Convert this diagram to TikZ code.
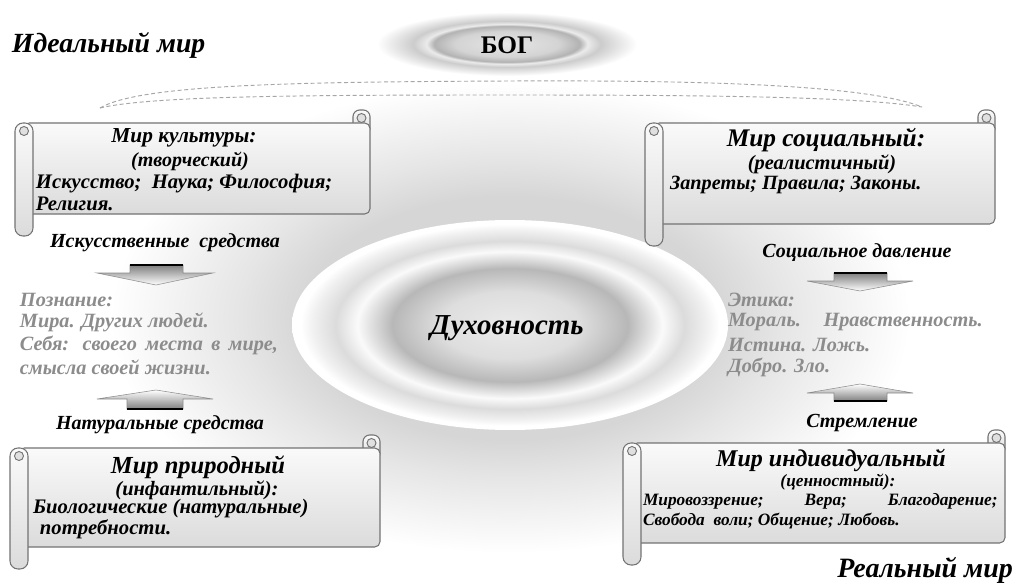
\documentclass[tikz,border=0pt]{standalone}
\usepackage{fontspec}
\setmainfont{Liberation Serif}
\usetikzlibrary{shadings}
\pgfdeclareradialshading{bgglow}{\pgfpoint{0bp}{0bp}}{color(0bp)=(black!17); color(13bp)=(black!16); color(17bp)=(black!10); color(25bp)=(white); color(50bp)=(white)}
\pgfdeclareradialshading{spirit}{\pgfpoint{0bp}{0bp}}{color(0bp)=(black!8); color(8bp)=(black!13); color(13.5bp)=(black!28); color(15bp)=(black!18); color(17.5bp)=(black!2); color(20bp)=(black!14); color(22.5bp)=(black!6); color(24bp)=(white); color(25bp)=(white); color(50bp)=(white)}
\pgfdeclareradialshading{godglow}{\pgfpoint{0bp}{0bp}}{color(0bp)=(black!10); color(10bp)=(black!17); color(14bp)=(black!30); color(15.5bp)=(black!8); color(18bp)=(black!20); color(25bp)=(white); color(50bp)=(white)}
\newcommand{\myscroll}[4]{%
  \draw[scr, rounded corners=5pt] (#3-17,#2+12) rectangle (#3,#2-13);
  \draw[curl] (#3-8.5,#2-5) circle (4.5);
  \draw[scr, rounded corners=4pt] (#1+9,#2) rectangle (#3,#4);
  \draw[scr, rounded corners=6pt] (#1,#2) rectangle (#1+18,#4+22);
  \draw[curl] (#1+9,#2+8) circle (4.5);
}
\newcommand{\bi}[1]{\bfseries\itshape\fontsize{#1}{#1}\selectfont}
\begin{document}
\begin{tikzpicture}[x=0.75pt,y=-0.75pt,
  every node/.style={inner sep=0pt, outer sep=0pt},
  bdy/.style={anchor=west},
  lbl/.style={font=\bi{15}},
  gry/.style={font=\bi{15.2}, anchor=west, text=black!45},
  scr/.style={draw=black!55, line width=0.8pt, top color=black!2, bottom color=black!14},
  curl/.style={draw=black!55, line width=0.7pt, fill=black!12},
  arrd/.style={draw=black!45, line width=0.4pt, top color=black!50, bottom color=white},
  arru/.style={draw=black!45, line width=0.4pt, top color=white, bottom color=black!50},
  bar/.style={line width=1.6pt, black},
  band/.style={draw=black!35, line width=0.7pt, dash pattern=on 3pt off 2pt}]
\useasboundingbox (0,0) rectangle (1015,585);
\fill[white] (0,0) rectangle (1015,585);
% background glow
\shade[shading=bgglow] (510,318) ellipse (400 and 235);
% god glow
\shade[shading=godglow] (507,44) ellipse (130 and 32);
\node[font=\bfseries\fontsize{19}{19}\selectfont] (god) at (507,45) {БОГ};
% dashed band
\draw[band] (100,108) .. controls (140,84) and (300,82) .. (510,81) .. controls (720,80) and (870,86) .. (922,107);
\draw[band] (100,108) .. controls (150,96) and (300,95) .. (510,95) .. controls (720,95) and (860,97) .. (922,107);
% worlds labels
\node[anchor=west, font=\bi{20.8}] (ideal) at (12,45) {Идеальный мир};
\node[anchor=east, font=\bi{21}] (real) at (1013,570) {Реальный мир};
% center ellipse
\shade[shading=spirit] (510,325) ellipse (218 and 105);
\node[font=\bi{21.7}] (spirit) at (507,328) {Духовность};
% scrolls
\myscroll{15}{123}{370}{214}
\myscroll{645}{123}{995}{224}
\myscroll{10}{448}{380}{547}
\myscroll{623}{443}{1005}{543}
% top-left texts
\node[font=\bi{16}] (tlT) at (184,138) {Мир культуры:};
\node[font=\bi{15}] (tlS) at (190,161) {(творческий)};
\node[bdy, font=\bi{15.5}] (tlB1) at (36,184) {Искусство;\ \ Наука; Философия;};
\node[bdy, font=\bi{15.5}] (tlB2) at (36,204) {Религия.};
% top-right texts
\node[font=\bi{19}] (trT) at (826,140) {Мир социальный:};
\node[font=\bi{15.3}] (trS) at (822,164) {(реалистичный)};
\node[bdy, font=\bi{15.2}] (trB1) at (670,185) {Запреты; Правила; Законы.};
% bottom-left texts
\node[font=\bi{18.4}] (blT) at (198,467) {Мир природный};
\node[font=\bi{15.3}] (blS) at (197,490) {(инфантильный):};
\node[bdy, font=\bi{15.5}] (blB1) at (33,509) {Биологические (натуральные)};
\node[bdy, font=\bi{15.5}] (blB2) at (40,529) {потребности.};
% bottom-right texts
\node[font=\bi{18}] (brT) at (831,460) {Мир индивидуальный};
\node[font=\bi{13}] (brS) at (838,482) {(ценностный):};
\node[bdy, font=\bi{13}] (brB1) at (643,501) {\makebox[266pt][s]{Мировоззрение;\ \ Вера;\ \ Благодарение;}};
\node[bdy, font=\bi{13}] (brB2) at (643,521) {Свобода\ \ воли; Общение; Любовь.};
% side labels
\node[lbl] (art) at (165,243) {Искусственные\ \ средства};
\node[lbl] (nat) at (160,425) {Натуральные средства};
\node[lbl] (soc) at (857,253) {Социальное давление};
\node[lbl] (asp) at (862,423) {Стремление};
% grey texts
\node[gry] (k1) at (20,300) {Познание:};
\node[gry] (k2) at (20,322) {Мира. Других людей.};
\node[gry] (k3) at (20,345) {\makebox[193.5pt][s]{Себя: своего места в мире,}};
\node[gry] (k4) at (20,367) {смысла своей жизни.};
\node[gry] (e1) at (728,300) {Этика:};
\node[gry] (e2) at (728,322) {\makebox[191pt][s]{Мораль. Нравственность.}};
\node[gry] (e3) at (728,345) {Истина. Ложь.};
\node[gry] (e4) at (728,367) {Добро. Зло.};
% block arrows
\path[arrd] (130,265) -- (183,265) -- (183,273) -- (213,273) -- (156,285) -- (97,273) -- (130,273) -- cycle;
\draw[bar] (130,265) -- (183,265);
\path[arru] (156,390) -- (213,399) -- (183,399) -- (183,409) -- (127,409) -- (127,399) -- (97,399) -- cycle;
\draw[bar] (127,409) -- (183,409);
\path[arrd] (834,273) -- (887,273) -- (887,281) -- (913,281) -- (860,291) -- (807,281) -- (834,281) -- cycle;
\draw[bar] (834,273) -- (887,273);
\path[arru] (860,384) -- (913,393) -- (887,393) -- (887,401) -- (834,401) -- (834,393) -- (807,393) -- cycle;
\draw[bar] (834,401) -- (887,401);
\end{tikzpicture}
\end{document}
